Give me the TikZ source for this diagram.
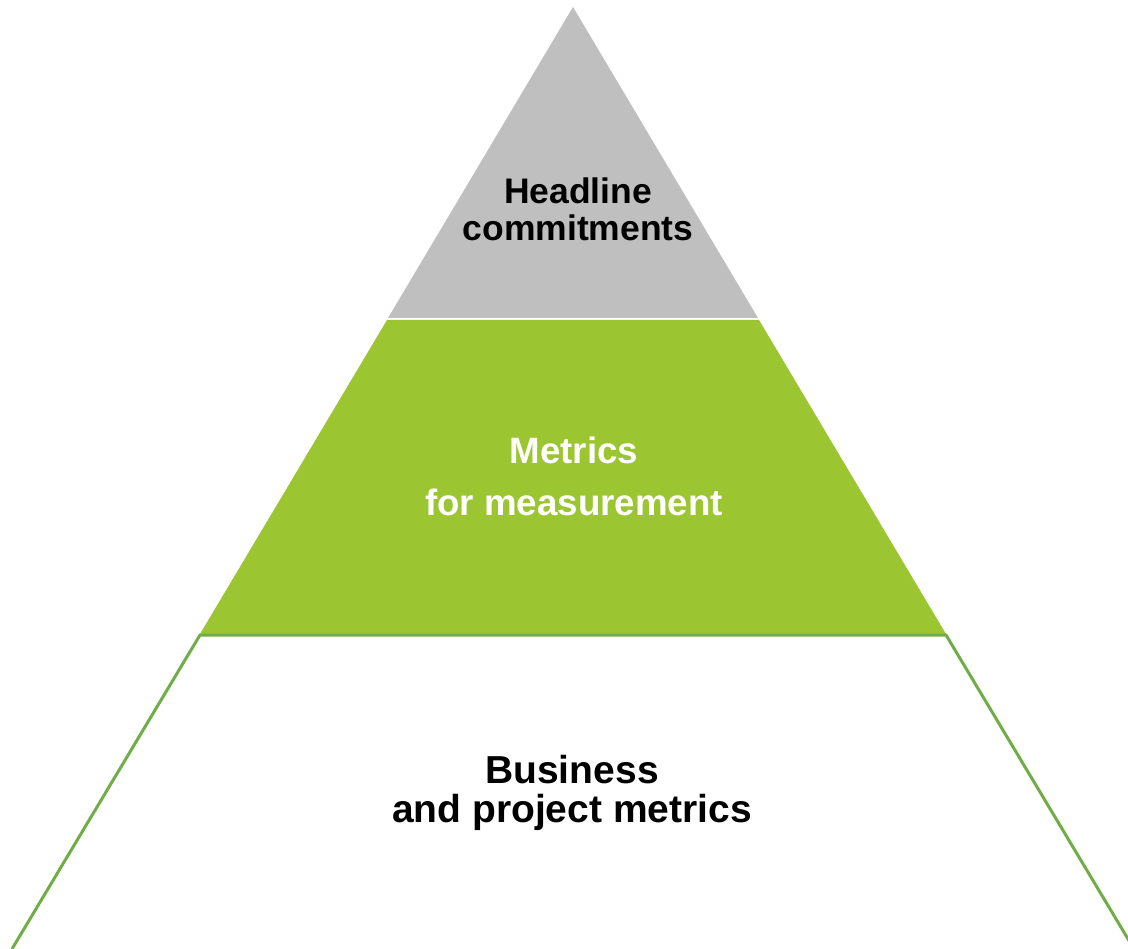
\documentclass[tikz,border=0pt]{standalone}
\usepackage{fontspec}
\setmainfont{Liberation Sans}
\usepackage{xcolor}
\definecolor{pgray}{RGB}{191,191,191}
\definecolor{pgreen}{RGB}{155,197,49}
\definecolor{pline}{RGB}{112,173,71}

\begin{document}
\begin{tikzpicture}[
    x=1pt, y=-1pt,
    layer/.style={align=center, inner sep=0pt, font=\bfseries}]

\useasboundingbox (0,0) rectangle (1128,949);

% Top layer
\fill[pgray] (573,7) -- (758,318) -- (388,318) -- cycle;

% Middle layer
\fill[pgreen] (387,320) -- (759,320) -- (946,634) -- (200,634) -- cycle;

% Bottom layer
\draw[pline, line width=3pt]
    (12,949) -- (200,635) -- (946,635) -- (1134,949);

% Labels
\node[layer, font=\fontsize{35.5}{37}\bfseries] (headline) at (578,209.5)
    {Headline\\commitments};
\node[layer, white, font=\fontsize{36.7}{52}\bfseries] (metrics) at (574,476)
    {Metrics\\for measurement};
\node[layer, font=\fontsize{39}{39}\bfseries] (business) at (572,793)
    {Business\\and project metrics};

\end{tikzpicture}
\end{document}
